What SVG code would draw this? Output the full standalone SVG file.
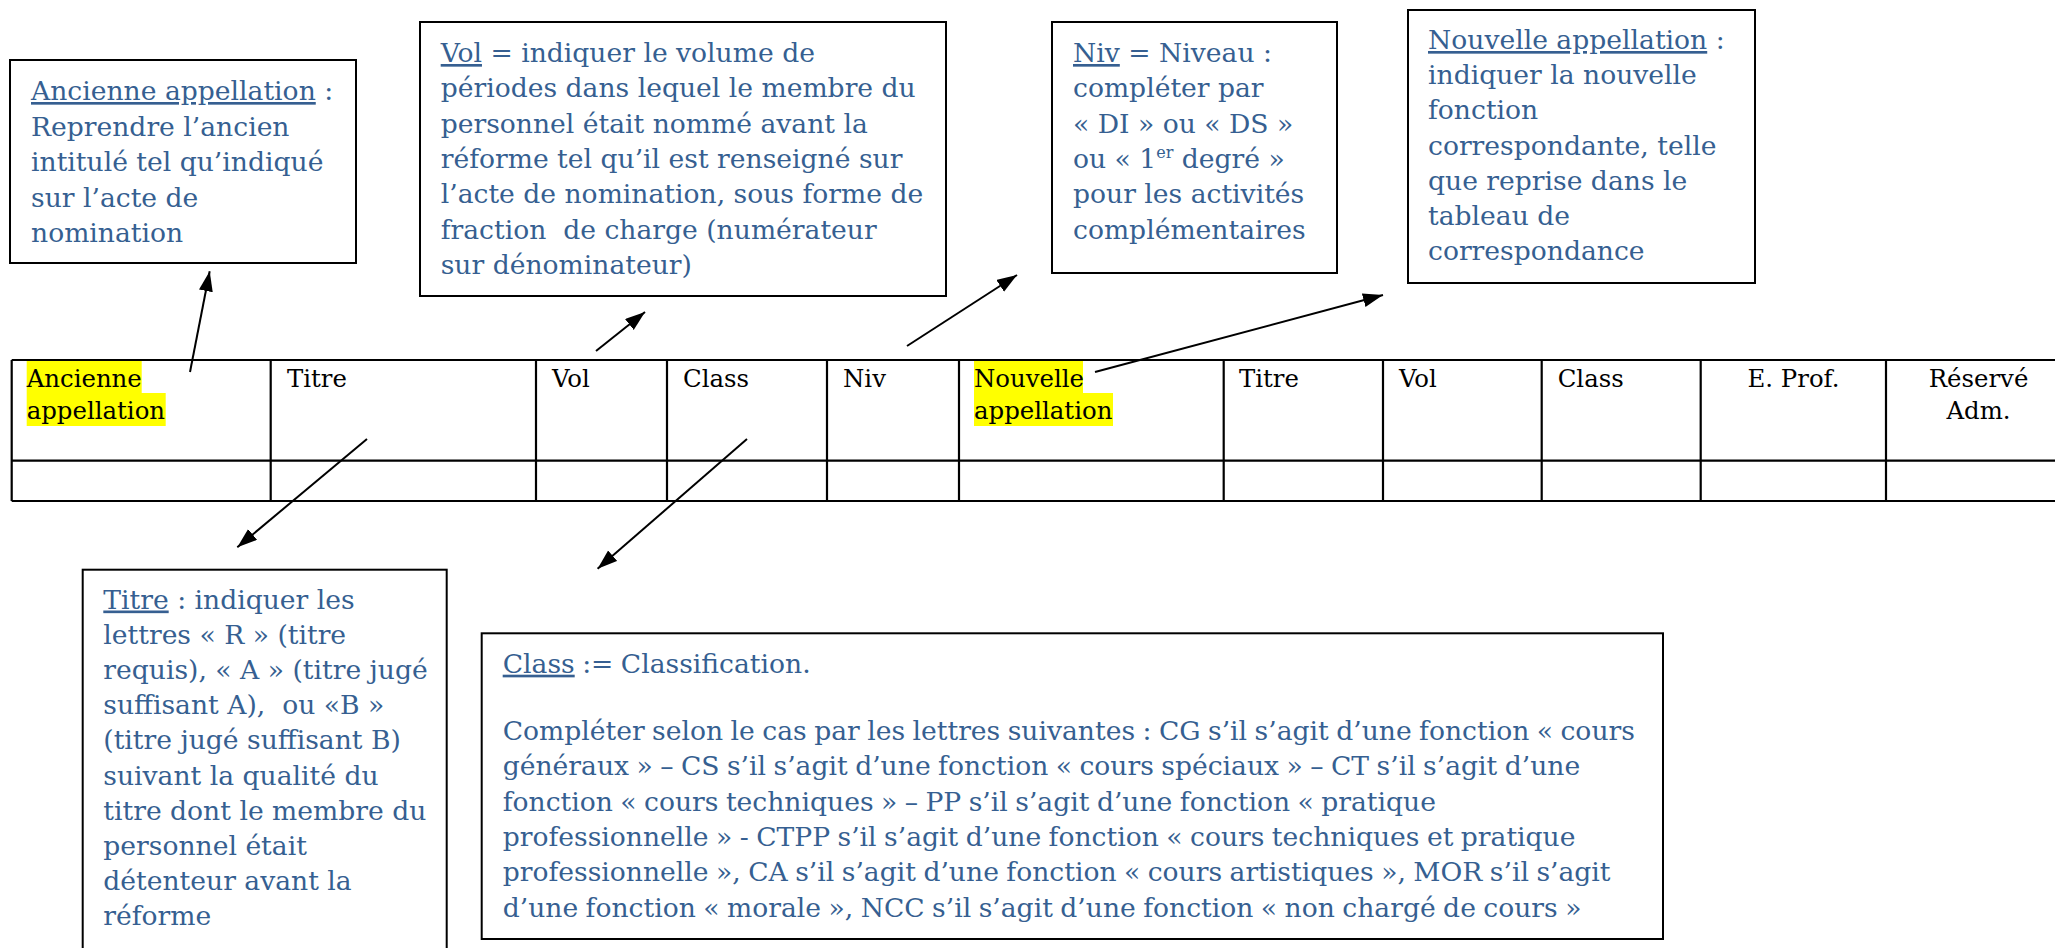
<svg xmlns="http://www.w3.org/2000/svg" width="2055" height="948" viewBox="0 0 2055 948">
<style>
.box{fill:#fff;stroke:#000;stroke-width:2}
.note{font-family:"DejaVu Serif","Liberation Serif",serif;font-size:26.6px;fill:#365F91}
.cell{font-family:"DejaVu Serif","Liberation Serif",serif;font-size:24.4px;fill:#000}
.u{text-decoration:underline}
.grid{stroke:#000;stroke-width:2.2;fill:none}
.hl{fill:#FFFF00}
.conn{stroke:#000;stroke-width:2;fill:none;marker-end:url(#arr)}
</style>
<defs>
<marker id="arr" markerUnits="userSpaceOnUse" markerWidth="22" markerHeight="16" refX="20" refY="7" orient="auto">
<path d="M0,0 L20,7 L0,14 Z" fill="#000"/>
</marker>
</defs>
<rect width="2055" height="948" fill="#fff"/>

<g id="table">
<rect class="hl" x="26.7" y="361" width="115" height="32"/>
<rect class="hl" x="26.7" y="393" width="139" height="33"/>
<rect class="hl" x="974" y="361" width="109" height="32"/>
<rect class="hl" x="974" y="393" width="139" height="33"/>
<path class="grid" d="M11.7,360 H2055 M11.7,460.7 H2055 M11.7,501 H2055 M11.7,360 V501 M270.7,360 V501 M536,360 V501 M667,360 V501 M827,360 V501 M959,360 V501 M1223.7,360 V501 M1383,360 V501 M1541.7,360 V501 M1700.7,360 V501 M1886,360 V501"/>
<text class="cell" x="26.7" y="386.7">Ancienne</text>
<text class="cell" x="26.7" y="419">appellation</text>
<text class="cell" x="287" y="386.7">Titre</text>
<text class="cell" x="552" y="386.7">Vol</text>
<text class="cell" x="683" y="386.7">Class</text>
<text class="cell" x="843" y="386.7">Niv</text>
<text class="cell" x="974" y="386.7">Nouvelle</text>
<text class="cell" x="974" y="419">appellation</text>
<text class="cell" x="1239" y="386.7">Titre</text>
<text class="cell" x="1399" y="386.7">Vol</text>
<text class="cell" x="1557.7" y="386.7">Class</text>
<text class="cell" x="1793.5" y="386.7" text-anchor="middle">E. Prof.</text>
<text class="cell" x="1978.5" y="386.7" text-anchor="middle">Réservé</text>
<text class="cell" x="1978.5" y="419" text-anchor="middle">Adm.</text>
</g>

<g id="box-ancienne">
<rect class="box" x="10" y="60" width="346" height="203"/>
<text class="note"><tspan x="31" y="100"><tspan class="u">Ancienne appellation</tspan> :</tspan><tspan x="31" y="135.5">Reprendre l’ancien</tspan><tspan x="31" y="171">intitulé tel qu’indiqué</tspan><tspan x="31" y="206.5">sur l’acte de</tspan><tspan x="31" y="242">nomination</tspan></text>
</g>

<g id="box-vol">
<rect class="box" x="420" y="22" width="526" height="274"/>
<text class="note" xml:space="preserve"><tspan x="440.7" y="62"><tspan class="u">Vol</tspan> = indiquer le volume de</tspan><tspan x="440.7" y="97.3">périodes dans lequel le membre du</tspan><tspan x="440.7" y="132.6">personnel était nommé avant la</tspan><tspan x="440.7" y="168">réforme tel qu’il est renseigné sur</tspan><tspan x="440.7" y="203.2">l’acte de nomination, sous forme de</tspan><tspan x="440.7" y="238.5">fraction  de charge (numérateur</tspan><tspan x="440.7" y="273.8">sur dénominateur)</tspan></text>
</g>

<g id="box-niv">
<rect class="box" x="1052" y="22" width="285" height="251"/>
<text class="note"><tspan x="1073" y="62"><tspan class="u">Niv</tspan> = Niveau :</tspan><tspan x="1073" y="97.3">compléter par</tspan><tspan x="1073" y="132.6">« DI » ou « DS »</tspan><tspan x="1073" y="168">ou « 1<tspan font-size="16" dy="-10">er</tspan><tspan dy="10"> degré »</tspan></tspan><tspan x="1073" y="203.2">pour les activités</tspan><tspan x="1073" y="238.5">complémentaires</tspan></text>
</g>

<g id="box-nouvelle">
<rect class="box" x="1408" y="10" width="347" height="273"/>
<text class="note"><tspan x="1428" y="49"><tspan class="u">Nouvelle appellation</tspan> :</tspan><tspan x="1428" y="84.2">indiquer la nouvelle</tspan><tspan x="1428" y="119.4">fonction</tspan><tspan x="1428" y="154.6">correspondante, telle</tspan><tspan x="1428" y="189.8">que reprise dans le</tspan><tspan x="1428" y="225">tableau de</tspan><tspan x="1428" y="260.2">correspondance</tspan></text>
</g>

<g id="box-titre">
<rect class="box" x="82.7" y="569.7" width="364" height="400"/>
<text class="note" xml:space="preserve"><tspan x="103.3" y="608.5"><tspan class="u">Titre</tspan> : indiquer les</tspan><tspan x="103.3" y="643.7">lettres « R » (titre</tspan><tspan x="103.3" y="678.9">requis), « A » (titre jugé</tspan><tspan x="103.3" y="714.1">suffisant A),  ou «B »</tspan><tspan x="103.3" y="749.3">(titre jugé suffisant B)</tspan><tspan x="103.3" y="784.5">suivant la qualité du</tspan><tspan x="103.3" y="819.7">titre dont le membre du</tspan><tspan x="103.3" y="854.9">personnel était</tspan><tspan x="103.3" y="890.1">détenteur avant la</tspan><tspan x="103.3" y="925.3">réforme</tspan></text>
</g>

<g id="box-class">
<rect class="box" x="481.7" y="633.3" width="1181.3" height="305.7"/>
<text class="note" word-spacing="-1"><tspan x="502.7" y="672.7"><tspan class="u">Class</tspan> := Classification.</tspan><tspan x="502.7" y="740">Compléter selon le cas par les lettres suivantes : CG s’il s’agit d’une fonction « cours</tspan><tspan x="502.7" y="775.3">généraux » – CS s’il s’agit d’une fonction « cours spéciaux » – CT s’il s’agit d’une</tspan><tspan x="502.7" y="810.6">fonction « cours techniques » – PP s’il s’agit d’une fonction « pratique</tspan><tspan x="502.7" y="845.9">professionnelle » - CTPP s’il s’agit d’une fonction « cours techniques et pratique</tspan><tspan x="502.7" y="881.2">professionnelle », CA s’il s’agit d’une fonction « cours artistiques », MOR s’il s’agit</tspan><tspan x="502.7" y="916.5">d’une fonction « morale », NCC s’il s’agit d’une fonction « non chargé de cours »</tspan></text>
</g>

<g id="connectors">
<line class="conn" x1="190" y1="372" x2="209.7" y2="271.3"/>
<line class="conn" x1="596" y1="351" x2="645" y2="312"/>
<line class="conn" x1="907" y1="346" x2="1017" y2="275"/>
<line class="conn" x1="1095" y1="372" x2="1383" y2="295"/>
<line class="conn" x1="367" y1="439" x2="237.3" y2="547.3"/>
<line class="conn" x1="747" y1="439" x2="597.6" y2="568.8"/>
</g>
</svg>
